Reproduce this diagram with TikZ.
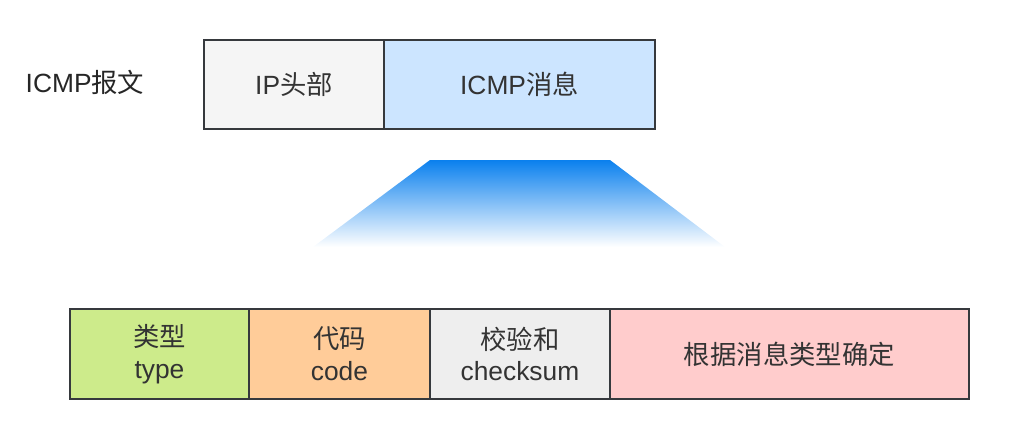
\documentclass[tikz,border=0pt]{standalone}
\usepackage{fontspec}
\setmainfont{Liberation Sans}
\newfontfamily\cjk{Noto Sans CJK SC}
\newcommand{\zh}[1]{{\cjk #1}}
\usepackage{tikz}
\usetikzlibrary{positioning}
\definecolor{boxline}{HTML}{36393D}
\definecolor{textgray}{HTML}{333333}
\definecolor{iphead}{HTML}{F5F5F5}
\definecolor{icmpmsg}{HTML}{CCE5FF}
\definecolor{typegreen}{HTML}{CDEB8B}
\definecolor{codeorange}{HTML}{FFCC99}
\definecolor{sumgray}{HTML}{EEEEEE}
\definecolor{restpink}{HTML}{FFCCCC}
\definecolor{fanblue}{HTML}{0A80EE}
\tikzset{
  hdrbox/.style={rectangle,draw=boxline,line width=0.8pt,outer sep=0pt,inner sep=0pt,
    minimum height=1.78cm,text=textgray,align=center,font=\fontsize{15}{18}\selectfont},
  fieldbox/.style={hdrbox,minimum height=1.8cm},
  plainlabel/.style={text=black!85,font=\fontsize{15}{18}\selectfont}
}

\begin{document}
\begin{tikzpicture}[x=0.02cm,y=-0.02cm]
  \useasboundingbox (0,0) rectangle (1034,420);
  % ICMP packet
  \node[plainlabel] (pkt) at (85,82) {ICMP\zh{报文}};
  \node[hdrbox,fill=iphead,minimum width=3.6cm,anchor=north west] (ip) at (204,40) {IP\zh{头部}};
  \node[hdrbox,fill=icmpmsg,minimum width=5.42cm,right=0pt of ip] (msg) {ICMP\zh{消息}};
  % fan out
  \shade[top color=fanblue,bottom color=white] (430,160) -- (610,160) -- (725,247) -- (313,247) -- cycle;
  % message fields
  \node[fieldbox,fill=typegreen,minimum width=3.58cm,anchor=north west] (type) at (70,309) {\zh{类型}\\type};
  \node[fieldbox,fill=codeorange,minimum width=3.62cm,right=0pt of type] (code) {\zh{代码}\\code};
  \node[fieldbox,fill=sumgray,minimum width=3.6cm,right=0pt of code] (sum) {\zh{校验和}\\checksum};
  \node[fieldbox,fill=restpink,minimum width=7.18cm,right=0pt of sum] (rest) {\zh{根据消息类型确定}};
\end{tikzpicture}
\end{document}
